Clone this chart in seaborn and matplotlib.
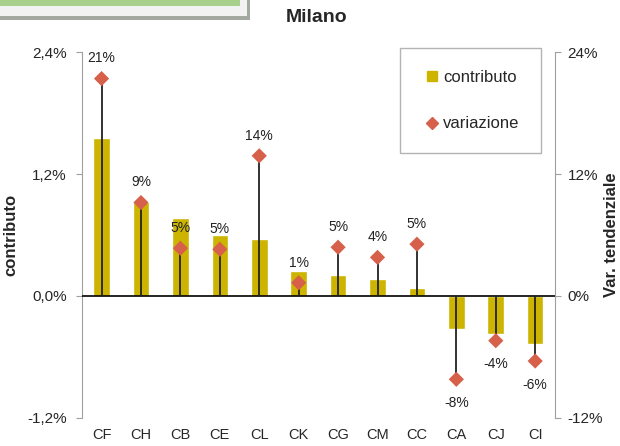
import numpy as np
import pandas as pd
import seaborn as sns
import matplotlib.pyplot as plt
from matplotlib.lines import Line2D
from matplotlib.patches import Rectangle
from matplotlib.ticker import FuncFormatter

# data
categories = ['CF', 'CH', 'CB', 'CE', 'CL', 'CK', 'CG', 'CM', 'CC', 'CA', 'CJ', 'CI']
contributo = [1.56, 0.93, 0.77, 0.60, 0.56, 0.25, 0.21, 0.17, 0.08, -0.32, -0.37, -0.47]
variazione = [21.4, 9.2, 4.7, 4.6, 13.8, 1.3, 4.8, 3.8, 5.1, -8.2, -4.4, -6.4]
point_labels = ['21%', '9%', '5%', '5%', '14%', '1%', '5%', '4%', '5%', '-8%', '-4%', '-6%']

bar_color = '#CCB400'
dot_color = '#D6604A'
grey = '#A0A0A0'

sns.set_style('white')
plt.rcParams['font.family'] = ['Liberation Sans', 'DejaVu Sans']

df = pd.DataFrame({'cat': categories, 'contributo': contributo, 'variazione': variazione})

fig = plt.figure(figsize=(6.2, 4.46), dpi=100)
ax = fig.add_axes([0.132, 0.063, 0.763, 0.820])

sns.barplot(data=df, x='cat', y='contributo', color=bar_color, width=0.42,
            saturation=1, ax=ax, zorder=2)
ax.set_xlim(-0.5, len(categories) - 0.5)
ax.set_ylim(-1.2, 2.4)
ax.set_yticks([-1.2, 0, 1.2, 2.4])
ax.yaxis.set_major_formatter(FuncFormatter(lambda v, p: f'{v:.1f}%'.replace('.', ',')))
ax.axhline(0, color='black', lw=1.2, zorder=3)
ax.set_xlabel('')
ax.set_ylabel('contributo', fontsize=12, fontweight='bold')
ax.yaxis.set_label_coords(-0.135, 0.5)

ax2 = ax.twinx()
ax2.set_ylim(-12, 24)
ax2.set_yticks([-12, 0, 12, 24])
ax2.yaxis.set_major_formatter(FuncFormatter(lambda v, p: f'{v:.0f}%'))
x = np.arange(len(categories))
ax2.vlines(x, 0, variazione, color='#222222', lw=1.3, zorder=3)
sns.scatterplot(data=df, x=x, y='variazione', marker='D', s=60, color=dot_color,
                edgecolor='none', ax=ax2, zorder=4)
for xi, v, lab in zip(x, variazione, point_labels):
    off = 14.5 if v >= 0 else -17
    ax2.annotate(lab, (xi, v), xytext=(0, off), textcoords='offset points',
                 ha='center', va='center', fontsize=10, color='#222222')
ax2.set_ylabel('Var. tendenziale', fontsize=12, fontweight='bold', rotation=90)
ax2.yaxis.set_label_coords(1.103, 0.5)

for a in (ax, ax2):
    for s in ('top', 'bottom'):
        a.spines[s].set_visible(False)
    a.tick_params(axis='y', labelsize=11, length=4, color=grey, direction='out')
ax.tick_params(axis='y', pad=7)
ax2.tick_params(axis='y', pad=5)
ax.spines['left'].set_color(grey)
ax.spines['right'].set_visible(False)
ax2.spines['left'].set_visible(False)
ax2.spines['right'].set_color(grey)
ax.tick_params(axis='x', labelsize=10.5, length=0, pad=7)

handles = [Line2D([], [], marker='s', color=bar_color, linestyle='none', markersize=7.5),
           Line2D([], [], marker='D', color=dot_color, linestyle='none', markersize=6.5)]
leg = fig.legend(handles, ['contributo', 'variazione'], loc='upper left',
                 bbox_to_anchor=(400 / 620, 1 - 48 / 446), fontsize=12,
                 frameon=True, fancybox=False, edgecolor=grey,
                 labelspacing=1.9, handletextpad=0.1, handlelength=1.2,
                 borderpad=1.3, borderaxespad=0)
leg.get_frame().set_linewidth(1)

fig.text(317 / 620, 1 - 18 / 446, 'Milano', ha='center', va='center',
         fontsize=14, fontweight='bold')

# green banner in the top-left corner
fig.patches.append(Rectangle((0, 1 - 20 / 446), 250 / 620, 20 / 446, transform=fig.transFigure,
                             facecolor='#A3A8A0', edgecolor='none', zorder=0))
fig.patches.append(Rectangle((0, 1 - 16 / 446), 247 / 620, 16 / 446, transform=fig.transFigure,
                             facecolor='#F2F2F2', edgecolor='none', zorder=1))
fig.patches.append(Rectangle((0, 1 - 6 / 446), 240 / 620, 6 / 446, transform=fig.transFigure,
                             facecolor='#A6D08C', edgecolor='none', zorder=2))

fig.savefig('out.png', dpi=100)
